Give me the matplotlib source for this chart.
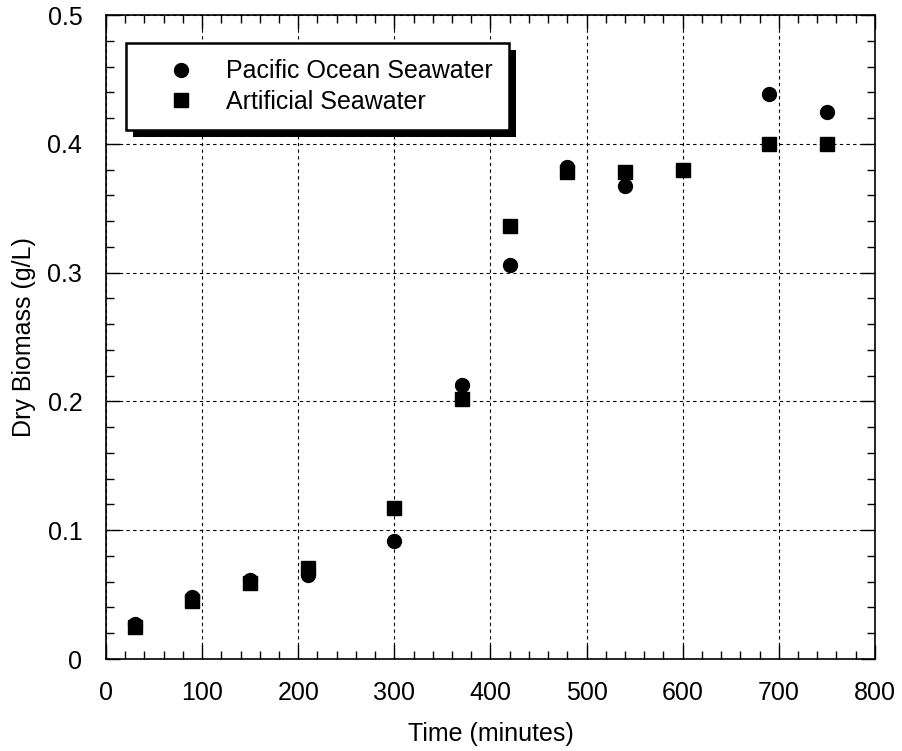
import matplotlib
matplotlib.use("Agg")
import matplotlib.pyplot as plt
from matplotlib.ticker import MultipleLocator, FuncFormatter
import matplotlib.patheffects as pe

plt.rcParams['font.family'] = ['Liberation Sans', 'DejaVu Sans']

pac_x = [30, 90, 150, 210, 300, 370, 420, 480, 540, 690, 750]
pac_y = [0.027, 0.048, 0.061, 0.065, 0.092, 0.213, 0.306, 0.382, 0.367, 0.439, 0.425]
art_x = [30, 90, 150, 210, 300, 370, 420, 480, 540, 600, 690, 750]
art_y = [0.025, 0.045, 0.059, 0.071, 0.117, 0.202, 0.336, 0.378, 0.378, 0.380, 0.400, 0.400]

fig = plt.figure(figsize=(9.02, 7.51), dpi=100)
ax = fig.add_axes([0.1175, 0.1225, 0.8525, 0.8575])

ax.plot(pac_x, pac_y, 'o', color='black', ms=10, label='Pacific Ocean Seawater', zorder=3)
ax.plot(art_x, art_y, 's', color='black', ms=10, label='Artificial Seawater', zorder=3)

ax.set_xlim(0, 800)
ax.set_ylim(0, 0.5)
ax.xaxis.set_major_locator(MultipleLocator(100))
ax.xaxis.set_minor_locator(MultipleLocator(20))
ax.yaxis.set_major_locator(MultipleLocator(0.1))
ax.yaxis.set_minor_locator(MultipleLocator(0.02))
ax.yaxis.set_major_formatter(FuncFormatter(lambda v, p: '0' if abs(v) < 1e-9 else f'{v:.1f}'))
ax.tick_params(which='both', direction='in', top=True, right=True, width=1, labelsize=18)
ax.tick_params(which='major', length=10)
ax.tick_params(axis='x', which='major', pad=16)
ax.tick_params(axis='y', which='major', pad=17)
ax.tick_params(which='minor', length=6)
ax.grid(True, which='major', linestyle=(0, (3, 3)), color='black', linewidth=0.8)
for s in ax.spines.values():
    s.set_linewidth(1.2)

ax.set_xlabel('Time (minutes)', fontsize=18, va='center')
ax.set_ylabel('Dry Biomass (g/L)', fontsize=18, va='center')
ax.xaxis.set_label_coords(0.5, -0.117)
ax.yaxis.set_label_coords(-0.107, 0.5)

leg = ax.legend(loc='upper left', bbox_to_anchor=(0.026, 0.9565), fontsize=18,
                fancybox=False, framealpha=1, edgecolor='black', borderpad=0.65,
                handlelength=3.1, handletextpad=0.25, labelspacing=0.25, borderaxespad=0)
leg.get_frame().set_linewidth(1.8)
leg.get_frame().set_path_effects([pe.SimplePatchShadow(offset=(5, -5), shadow_rgbFace='black', alpha=1), pe.Normal()])
leg.set_zorder(5)

fig.savefig('out.png', dpi=100)
